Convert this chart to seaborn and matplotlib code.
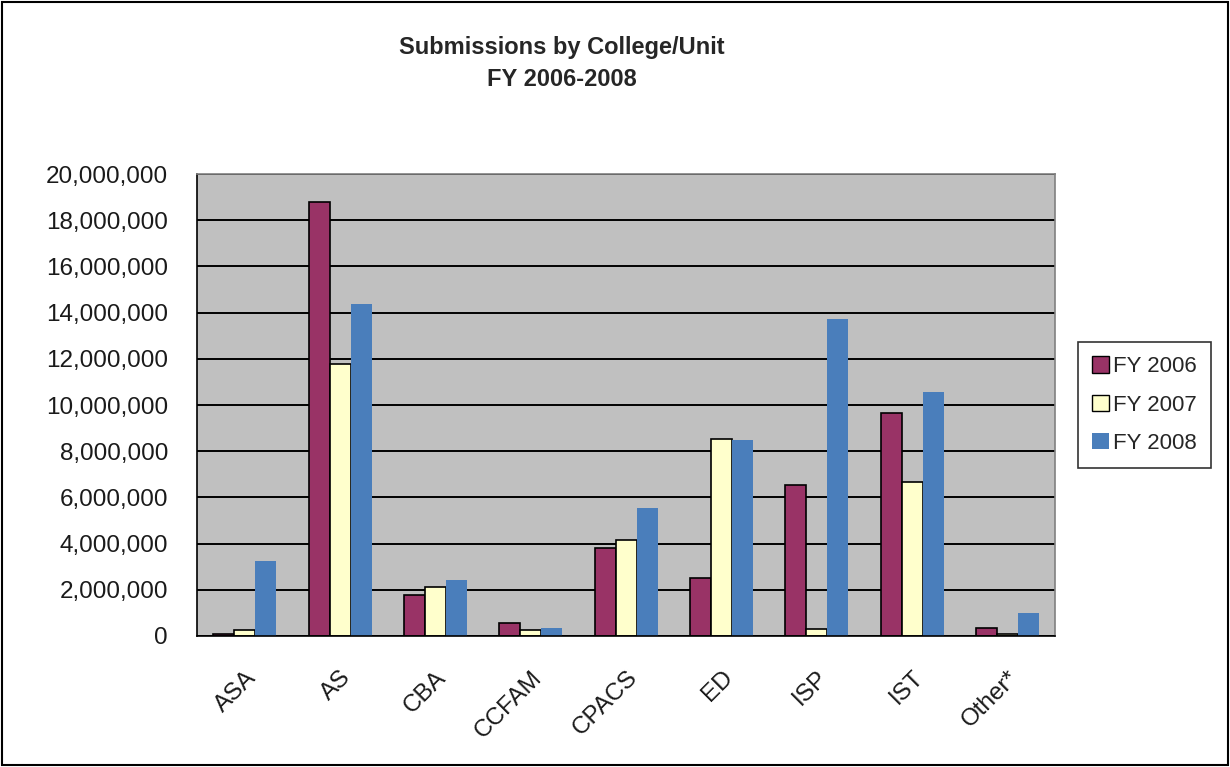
import pandas as pd
import matplotlib.pyplot as plt
import seaborn as sns
from matplotlib.patches import Rectangle
from matplotlib.ticker import FuncFormatter, FixedLocator

units = ["ASA", "AS", "CBA", "CCFAM", "CPACS", "ED", "ISP", "IST", "Other*"]
years = ["FY 2006", "FY 2007", "FY 2008"]
fy2006 = [80000, 18790000, 1770000, 560000, 3810000, 2510000, 6540000, 9650000, 350000]
fy2007 = [280000, 11770000, 2120000, 260000, 4160000, 8530000, 300000, 6670000, 100000]
fy2008 = [3250000, 14370000, 2420000, 350000, 5540000, 8480000, 13720000, 10560000, 1000000]
colors = ["#993366", "#FFFFCC", "#4A7EBB"]

df = pd.DataFrame({
    "unit": units * 3,
    "year": [years[0]] * 9 + [years[1]] * 9 + [years[2]] * 9,
    "value": fy2006 + fy2007 + fy2008,
})

sns.set_style("white")
plt.rcParams["font.family"] = ["Liberation Sans", "DejaVu Sans"]

fig = plt.figure(figsize=(12.3, 7.67), dpi=100)
ax = fig.add_axes([0.1602, 0.1708, 0.6976, 0.6023])
ax.set_facecolor("#C0C0C0")

sns.barplot(data=df, x="unit", y="value", hue="year", palette=colors,
            width=0.66, gap=0, ax=ax, saturation=1)

# 2006 and 2007 bars have a black outline, 2008 has none
for cont, col in zip(ax.containers, colors):
    for bar in cont:
        if col == "#4A7EBB":
            bar.set_edgecolor("none")
        else:
            bar.set_edgecolor("black")
            bar.set_linewidth(1.2)

ax.set_xlim(-0.5, len(units) - 0.5)
ax.set_ylim(0, 20000000)
ax.set_yticks(range(0, 20000001, 2000000))
ax.yaxis.set_major_formatter(FuncFormatter(lambda v, p: f"{int(v):,}"))
ax.grid(axis="y", color="black", linewidth=1.4)
ax.set_axisbelow(True)

ax.xaxis.set_minor_locator(FixedLocator([i - 0.5 for i in range(len(units) + 1)]))
ax.tick_params(axis="x", which="major", length=0, pad=22)
ax.tick_params(axis="x", which="minor", length=7, width=1.2, color="black", direction="out")
ax.tick_params(axis="y", length=7, width=1.2, color="black", direction="out", pad=14)
plt.setp(ax.get_xticklabels(), rotation=45, ha="right", rotation_mode="anchor",
         fontsize=17.5, color="#1a1a1a")
plt.setp(ax.get_yticklabels(), fontsize=17.5, color="#1a1a1a")
ax.set_xlabel("")
ax.set_ylabel("")

for side in ["top", "right"]:
    ax.spines[side].set_color("#808080")
    ax.spines[side].set_linewidth(1.2)
for side in ["left", "bottom"]:
    ax.spines[side].set_color("black")
    ax.spines[side].set_linewidth(1.2)
    ax.spines[side].set_visible(True)

handles, labels = ax.get_legend_handles_labels()
leg = ax.legend(handles, labels, loc="center left", bbox_to_anchor=(1.027, 0.5),
                fontsize=16, frameon=True, fancybox=False, edgecolor="black",
                handlelength=0.75, handleheight=0.75, handletextpad=0.2,
                labelspacing=0.78, borderpad=0.62, borderaxespad=0)
leg.get_frame().set_linewidth(1.2)
for h, col in zip(leg.legend_handles, colors):
    h.set_edgecolor("black" if col != "#4A7EBB" else "none")
    h.set_linewidth(1.0)

fig.text(0.457, 0.917, "Submissions by College/Unit\nFY 2006-2008", ha="center",
         va="center", fontsize=17, fontweight="bold", linespacing=1.5)

fig.patches.append(Rectangle((0.002, 0.002), 0.996, 0.996, transform=fig.transFigure,
                             fill=False, edgecolor="black", linewidth=1.5))

plt.savefig("out.png", dpi=100)
plt.close()
